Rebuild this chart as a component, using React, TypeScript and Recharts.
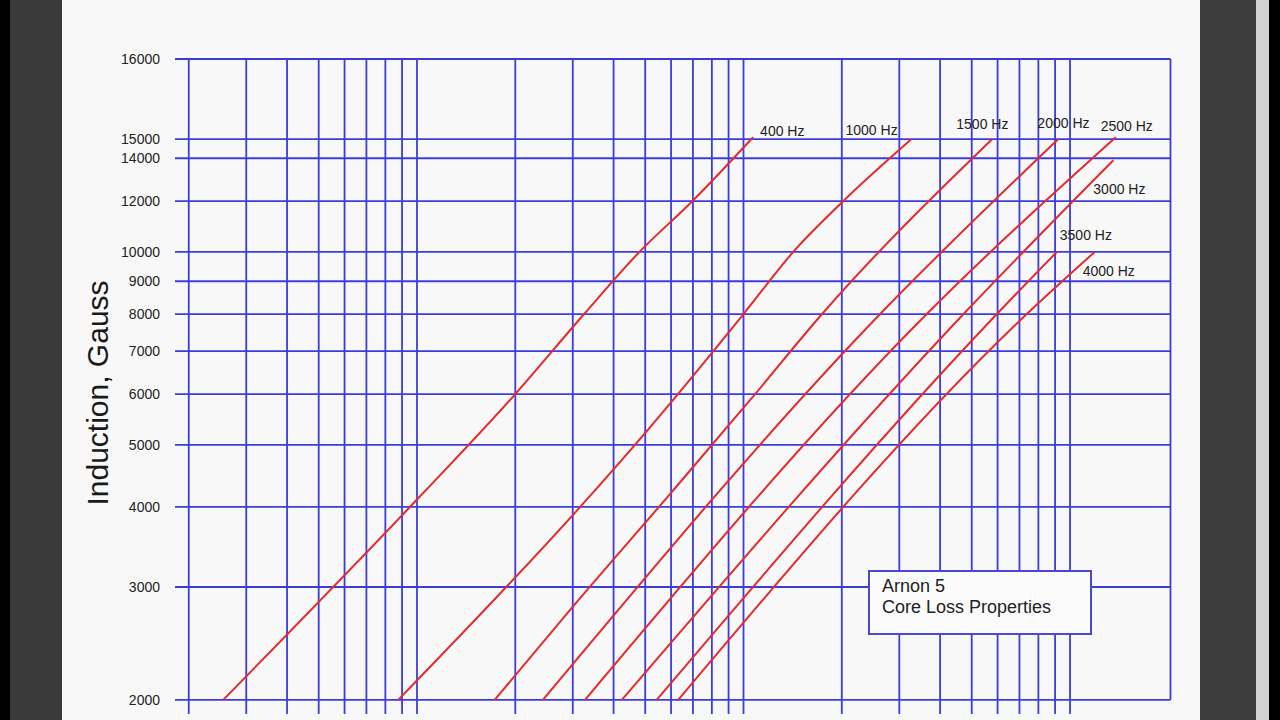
import React from 'react';
import { LineChart, Line, XAxis, YAxis, ReferenceLine } from 'recharts';

// ---- Data -----------------------------------------------------------
const frequencies = ['400 Hz', '1000 Hz', '1500 Hz', '2000 Hz', '2500 Hz', '3000 Hz', '3500 Hz', '4000 Hz'];

// core loss (x, log scale) and induction in gauss (y, log scale)
const loss400 = [0.255, 1.01, 2.0, 3.25, 4.8, 6.97, 10.7];
const gauss400 = [2000, 4130, 6000, 8000, 10000, 12000, 15100];
const loss1000 = [0.876, 3.16, 4.65, 10, 14.2, 20.2, 32.7];
const gauss1000 = [2000, 4000, 5000, 8000, 10000, 12000, 15000];
const loss1500 = [1.73, 3.01, 6.1, 10.5, 17.4, 57.8];
const gauss1500 = [2000, 2800, 4250, 5880, 8000, 15000];
const loss2000 = [2.43, 26.2, 92.1];
const gauss2000 = [2000, 8000, 15000];
const loss2500 = [3.27, 36.4, 138];
const gauss2500 = [2000, 8000, 15100];
const loss3000 = [4.24, 47.2, 135.7];
const gauss3000 = [2000, 8000, 13900];
const loss3500 = [5.42, 59.7, 91.1];
const gauss3500 = [2000, 8000, 10000];
const loss4000 = [6.31, 73.7, 119];
const gauss4000 = [2000, 8000, 10000];

const yTicks = [2000, 3000, 4000, 5000, 6000, 7000, 8000, 9000, 10000, 12000, 14000, 15000, 20000];
const yTickLabels = ['2000', '3000', '4000', '5000', '6000', '7000', '8000', '9000', '10000', '12000', '14000', '15000', '16000'];
const xTicks = [
  0.2, 0.3, 0.4, 0.5, 0.6, 0.7, 0.8, 0.9,
  1, 2, 3, 4, 5, 6, 7, 8, 9,
  10, 20, 30, 40, 50, 60, 70, 80, 90,
  100,
];
const X_DOMAIN: [number, number] = [0.1815, 203.1];
const Y_DOMAIN: [number, number] = [1901, 20000];

const titleLines = ['Arnon 5', 'Core Loss Properties'];
const yAxisTitle = 'Induction, Gauss';

// ---- Build series ------------------------------------------------------
const build = (xs: number[], ys: number[]) => xs.map((x, i) => ({ x, y: ys[i] }));
const seriesData = [
  build(loss400, gauss400),
  build(loss1000, gauss1000),
  build(loss1500, gauss1500),
  build(loss2000, gauss2000),
  build(loss2500, gauss2500),
  build(loss3000, gauss3000),
  build(loss3500, gauss3500),
  build(loss4000, gauss4000),
];

// label placement relative to curve end (style only)
const labelOffsets = [
  [7, -1], [-66, -4], [-36, -10], [-21, -11], [-15, -6], [-20, 34], [3, -12], [-12, 24],
];

const GRID = '#3c3cdc';
const RED = '#e42a2a';
const FONT = '"Liberation Sans", Arial, sans-serif';

const makeEndLabel = (si: number) => (props: any) => {
  const { x, y, index } = props;
  if (index !== seriesData[si].length - 1) return null;
  const [dx, dy] = labelOffsets[si];
  return (
    <text
      key={`lbl-${si}`}
      x={x + dx}
      y={y + dy}
      fontSize={14}
      fontFamily={FONT}
      fill="#222"
      textAnchor="start"
    >
      {frequencies[si]}
    </text>
  );
};

const AxisTitle = () => (
  <text
    x={108}
    y={393}
    transform="rotate(-90 108 393)"
    textAnchor="middle"
    fontSize={30}
    fontFamily={FONT}
    fill="#1a1a1a"
  >
    {yAxisTitle}
  </text>
);

export default function App() {
  return (
    <div style={{ position: 'absolute', left: 0, top: 0, width: 1280, height: 720, background: '#000', overflow: 'hidden', fontFamily: FONT }}>
      <div style={{ position: 'absolute', left: 10, top: 0, width: 52, height: 720, background: '#3a3a3a' }} />
      <div style={{ position: 'absolute', left: 62, top: 0, width: 1138, height: 720, background: '#f8f8f8' }} />
      <div style={{ position: 'absolute', left: 1200, top: 0, width: 56, height: 720, background: '#3d3d3d' }} />
      <div style={{ position: 'absolute', left: 1256, top: 0, width: 13, height: 720, background: '#d2d2d2' }} />
      <div style={{ position: 'absolute', left: 0, top: 0 }}>
        <LineChart width={1280} height={720} margin={{ top: 59, right: 109.5, bottom: 5, left: 0 }}>
          <XAxis
            type="number"
            dataKey="x"
            scale="log"
            domain={X_DOMAIN}
            allowDataOverflow
            ticks={xTicks}
            interval={0}
            tick={false}
            tickLine={false}
            axisLine={false}
            height={1}
          />
          <YAxis
            type="number"
            dataKey="y"
            scale="log"
            domain={Y_DOMAIN}
            allowDataOverflow
            ticks={yTicks}
            interval={0}
            width={175}
            axisLine={false}
            tickLine={false}
            tickSize={0}
            tickMargin={15}
            tick={{ fontSize: 14, fill: '#222', fontFamily: FONT }}
            tickFormatter={(v: number) => yTickLabels[yTicks.indexOf(v)] ?? String(v)}
            label={<AxisTitle />}
          />
          {yTicks.map((v) => (
            <ReferenceLine key={`h-${v}`} y={v} stroke={GRID} strokeWidth={1.8} ifOverflow="visible" />
          ))}
          {xTicks.map((v) => (
            <ReferenceLine key={`v-${v}`} x={v} stroke={GRID} strokeWidth={1.8} ifOverflow="visible" />
          ))}
          <ReferenceLine
            segment={[{ x: X_DOMAIN[1], y: 2000 }, { x: X_DOMAIN[1], y: Y_DOMAIN[1] }]}
            stroke={GRID}
            strokeWidth={1.8}
            ifOverflow="visible"
          />
          {seriesData.map((d, i) => (
            <Line
              key={frequencies[i]}
              data={d}
              dataKey="y"
              type="monotone"
              stroke={RED}
              strokeWidth={2}
              dot={false}
              activeDot={false}
              isAnimationActive={false}
              label={makeEndLabel(i)}
            />
          ))}
        </LineChart>
      </div>
      <div
        style={{
          position: 'absolute',
          left: 868,
          top: 570,
          width: 220,
          height: 61,
          background: '#fbfbfb',
          border: '2px solid #4848d0',
          boxSizing: 'content-box',
          fontSize: 18,
          lineHeight: '21px',
          color: '#222',
          padding: '0',
        }}
      >
        <div style={{ position: 'absolute', left: 12, top: 4 }}>{titleLines[0]}</div>
        <div style={{ position: 'absolute', left: 12, top: 25, whiteSpace: 'nowrap' }}>{titleLines[1]}</div>
      </div>
    </div>
  );
}
